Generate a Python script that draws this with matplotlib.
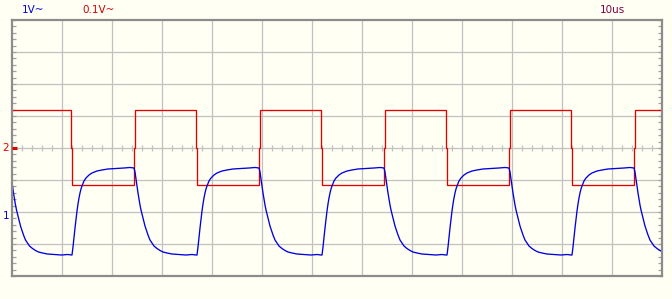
import numpy as np
import matplotlib
matplotlib.use("Agg")
import matplotlib.pyplot as plt

time_per_div = 10.0            # us / div
blue_v_per_div = 1.0           # channel 1
red_v_per_div = 0.1            # channel 2
blue_zero_div = 1.875          # marker "1"
red_zero_div = 4.0             # marker "2"

# red square wave (channel 2)
red_high = 0.120
red_low = -0.116
red_fall_times = [11.8, 36.8, 61.8, 86.8, 111.8]
red_rise_times = [24.3, 49.3, 74.3, 99.3, 124.3]

# blue response (channel 1): edge starts and measured edge shapes
blue_rise_starts = [12.0, 37.0, 62.0, 87.0, 112.0]
blue_fall_starts = [-0.5, 24.4, 49.4, 74.4, 99.4, 124.4]

fall_t = [0, 0.2, 0.4, 0.6, 0.8, 1.0, 1.2, 1.4, 1.6, 1.8, 2.0, 2.2, 2.4, 2.6,
          2.8, 3.2, 3.6, 4.0, 4.6, 5.2, 5.8, 6.6, 7.6, 9.0, 10.4, 11.6, 12.4]
fall_v = [1.500, 1.375, 1.156, 0.938, 0.719, 0.531, 0.344, 0.188, 0.063,
          -0.063, -0.188, -0.313, -0.406, -0.500, -0.594, -0.750, -0.844,
          -0.938, -1.016, -1.078, -1.125, -1.156, -1.188, -1.203, -1.219,
          -1.203, -1.219]
rise_t = [0, 0.2, 0.4, 0.6, 0.8, 1.0, 1.2, 1.4, 1.6, 1.8, 2.0, 2.4, 2.8,
          3.4, 4.0, 5.0, 6.0, 7.2, 8.8, 10.4, 11.6, 12.4]
rise_v = [-1.219, -0.969, -0.656, -0.375, -0.094, 0.156, 0.375, 0.563,
          0.719, 0.844, 0.938, 1.094, 1.188, 1.281, 1.344, 1.406, 1.438,
          1.469, 1.484, 1.500, 1.516, 1.516]

label_ch1 = "1V~"
label_ch2 = "0.1V~"
label_time = "10us"

# ---------------- build traces ----------------
edges = sorted([(t, "rise") for t in blue_rise_starts] +
               [(t, "fall") for t in blue_fall_starts])
bt, bv = [], []
for i, (t0, kind) in enumerate(edges):
    t_next = edges[i + 1][0] if i + 1 < len(edges) else 140.0
    pt, pv = (rise_t, rise_v) if kind == "rise" else (fall_t, fall_v)
    for a, b in zip(pt, pv):
        if t0 + a < t_next:
            bt.append(t0 + a)
            bv.append(b)
bt = np.array(bt)
bv = np.array(bv)

red_edges = sorted([(t, red_low) for t in red_fall_times] +
                   [(t, red_high) for t in red_rise_times])
rt, rv = [-1.0], [red_high]
cur = red_high
for t, new in red_edges:
    rt += [t, t, t + 0.2, t + 0.2]
    rv += [cur, 0.0, 0.0, new]
    cur = new
rt.append(131.0)
rv.append(cur)
rt = np.array(rt)
rv = np.array(rv)

# ---------------- figure ----------------
BG = "#fffff4"
W, H = 672, 299
fig = plt.figure(figsize=(W / 100, H / 100), dpi=100, facecolor=BG)
L, R, T, B = 12, 662, 20, 276
ax = fig.add_axes([L / W, 1 - B / H, (R - L) / W, (B - T) / H])
ax.set_facecolor(BG)
ax.set_xlim(0, 13 * time_per_div)
ax.set_ylim(0, 8)

grid_c = "#c0c0c0"
for k in range(1, 13):
    ax.axvline(k * time_per_div, color=grid_c, lw=0.9, zorder=1)
for k in range(1, 8):
    ax.axhline(k, color=grid_c, lw=0.9, zorder=1)
# centre line ticks
cx = np.arange(0, 13 * time_per_div + 0.01, time_per_div / 5)
ax.plot(cx, np.full_like(cx, 4.0), ls="none", marker="|", ms=4.0,
        mew=0.9, color=grid_c, zorder=1)

ax.set_xticks([])
ax.set_yticks(np.arange(0, 8.01, 1))
ax.set_yticks(np.arange(0, 8.01, 0.2), minor=True)
ax.tick_params(axis="y", which="both", direction="in", length=3,
               width=0.9, color="#a0a0a0", left=True, right=True,
               labelleft=False, labelright=False)
for s in ax.spines.values():
    s.set_color("#8c8c8c")
    s.set_linewidth(1.6)
    s.set_zorder(5)

# traces
ax.plot(rt, red_zero_div + rv / red_v_per_div, color="#e00000", lw=0.95,
        zorder=3, solid_joinstyle="miter")
ax.plot(bt, blue_zero_div + bv / blue_v_per_div, color="#0000e0", lw=0.95,
        zorder=4)

# channel markers
ax.plot([0, 0.9], [red_zero_div, red_zero_div], color="#e00000", lw=2.2,
        clip_on=False, zorder=6, solid_capstyle="butt")
fig.text(5.5 / W, 1 - 148 / H, "2", color="#e00000", fontsize=7.5,
         ha="center", va="center")
fig.text(6 / W, 1 - 216 / H, "1", color="#0000e0", fontsize=7.5,
         ha="center", va="center")

# header labels
fig.text(22 / W, 1 - 10 / H, label_ch1, color="#0000e0", fontsize=7.5,
         ha="left", va="center")
fig.text(82 / W, 1 - 10 / H, label_ch2, color="#d00000", fontsize=7.5,
         ha="left", va="center")
fig.text(600 / W, 1 - 10 / H, label_time, color="#800040", fontsize=7.5,
         ha="left", va="center")

fig.savefig("out.png", dpi=100, facecolor=BG)
